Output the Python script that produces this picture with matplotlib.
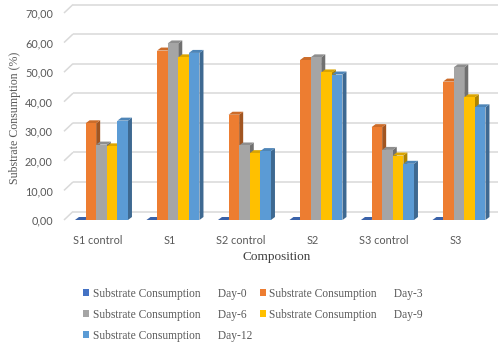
import matplotlib
matplotlib.use("Agg")
import matplotlib.pyplot as plt
from matplotlib.patches import Rectangle, Polygon, Patch
from matplotlib.transforms import ScaledTranslation
import numpy as np

# ---- data ----
categories = ["S1 control", "S1", "S2 control", "S2", "S3 control", "S3"]
series_names = ["Day-0", "Day-3", "Day-6", "Day-9", "Day-12"]
day0 = [0.0, 0.0, 0.0, 0.0, 0.0, 0.0]
day3 = [32.7, 57.3, 35.6, 54.1, 31.4, 46.8]
day6 = [25.5, 59.7, 25.2, 55.0, 23.7, 51.6]
day9 = [24.9, 55.0, 22.6, 49.9, 21.8, 41.5]
day12 = [33.6, 56.5, 23.3, 49.2, 19.0, 38.1]
series_values = [day0, day3, day6, day9, day12]
y_ticks = [0, 10, 20, 30, 40, 50, 60, 70]

colors = ["#4472C4", "#ED7D31", "#A5A5A5", "#FFC000", "#5B9BD5"]

# ---- figure / axes geometry (pixels) ----
W, H = 499, 343
fig = plt.figure(figsize=(W / 100, H / 100), dpi=100)
ax_l, ax_r, ax_b, ax_t = 64, 489, 220, 13
ax = fig.add_axes([ax_l / W, (H - ax_b) / H, (ax_r - ax_l) / W, (ax_b - ax_t) / H])
xmin, xmax = -0.524, 5.42
ymin, ymax = 0, 70
ax.set_xlim(xmin, xmax)
ax.set_ylim(ymin, ymax)
px_x = (ax_r - ax_l) / (xmax - xmin)
px_y = (ax_b - ax_t) / (ymax - ymin)

for s in ax.spines.values():
    s.set_visible(False)

# back wall gridlines with perspective offset
wall_dx = 9 / px_x
wall_dy = 8.5 / px_y
grid_c = "#D9D9D9"
for v in y_ticks:
    ax.plot([xmin, xmin + wall_dx], [v, v + wall_dy], color=grid_c, lw=1.1,
            clip_on=False, zorder=0, solid_capstyle="butt")
    ax.plot([xmin + wall_dx, xmax + wall_dx], [v + wall_dy, v + wall_dy],
            color=grid_c, lw=1.1, clip_on=False, zorder=0, solid_capstyle="butt")


def shade(c, f):
    r, g, b = matplotlib.colors.to_rgb(c)
    return (r * f, g * f, b * f)


# 3-D style columns
bw = 10.6 / px_x
ddx = 4 / px_x
ddy = 3 / px_y
n = len(series_values)
z = 2
for i in range(len(categories)):
    for k in range(n):
        v = series_values[k][i]
        x0 = i + (k - n / 2) * bw
        c = colors[k]
        front = Rectangle((x0, 0), bw, v, facecolor=c, edgecolor="none",
                          zorder=z, clip_on=False)
        top = Polygon([(x0, v), (x0 + ddx, v + ddy), (x0 + bw + ddx, v + ddy),
                       (x0 + bw, v)], closed=True, facecolor=shade(c, 0.86),
                      edgecolor="none", zorder=z, clip_on=False)
        side = Polygon([(x0 + bw, 0), (x0 + bw + ddx, ddy),
                        (x0 + bw + ddx, v + ddy), (x0 + bw, v)], closed=True,
                       facecolor=shade(c, 0.68), edgecolor="none", zorder=z,
                       clip_on=False)
        ax.add_patch(side)
        ax.add_patch(top)
        ax.add_patch(front)
        z += 1

# ticks
tick_font = dict(family="Lato", size=7.8)
ax.set_xticks(range(len(categories)))
ax.set_xticklabels(categories, color="#595959", **tick_font)
ax.set_yticks(y_ticks)
ax.set_yticklabels([f"{v:.2f}".replace(".", ",") for v in y_ticks],
                   color="#595959", **tick_font)
ax.tick_params(axis="x", length=0, pad=11)
ax.tick_params(axis="y", length=0, pad=8)
for lbl in ax.get_xticklabels():
    lbl.set_transform(lbl.get_transform() +
                      ScaledTranslation(-3.5 / 100, 0, fig.dpi_scale_trans))

serif = "Liberation Serif"
fig.text(15 / W, 1 - 118 / H, "Substrate Consumption (%)", rotation=90,
         ha="center", va="center", family=serif, size=8.6, color="#595959")
fig.text(277 / W, 1 - 257 / H, "Composition", ha="center", va="center",
         family=serif, size=9.5, color="#404040")

# legend: row-wise order with two columns
handles = [Patch(facecolor=colors[k], edgecolor="none") for k in range(n)]
labels = ["Substrate Consumption      " + s for s in series_names]
order = [0, 2, 4, 1, 3]
leg = fig.legend([handles[k] for k in order], [labels[k] for k in order],
                 ncol=2, loc="upper left", bbox_to_anchor=(83 / W, 1 - 287.5 / H),
                 frameon=False, prop=dict(family=serif, size=8.3),
                 handlelength=0.55, handleheight=0.55, handletextpad=0.3,
                 columnspacing=0.65, labelspacing=0.8, borderpad=0,
                 borderaxespad=0)
for t in leg.get_texts():
    t.set_color("#595959")

fig.savefig("out.png", dpi=100)
